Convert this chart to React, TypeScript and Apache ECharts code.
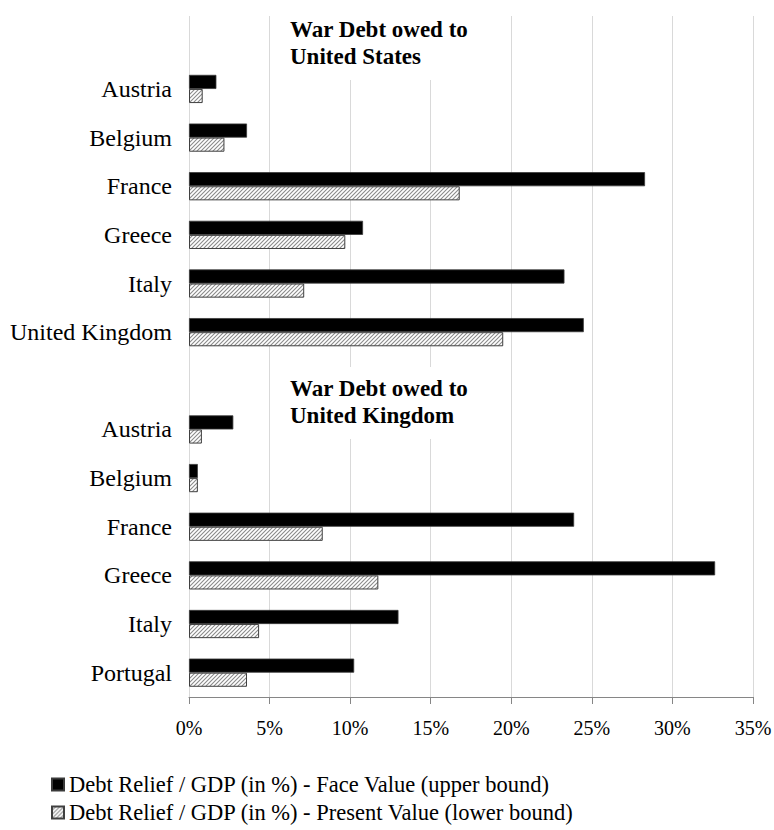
import React, { useEffect, useRef } from "react";
import * as echarts from "echarts";

// Categories (top to bottom); blank rows hold the two group titles
const categories = [
  "gap1",
  "US|Austria",
  "US|Belgium",
  "US|France",
  "US|Greece",
  "US|Italy",
  "US|United Kingdom",
  "gap2",
  "UK|Austria",
  "UK|Belgium",
  "UK|France",
  "UK|Greece",
  "UK|Italy",
  "UK|Portugal",
];

// War debt owed to United States (% of GDP)
const usFaceValue = [1.7, 3.6, 28.3, 10.8, 23.3, 24.5];
const usPresentValue = [0.85, 2.2, 16.8, 9.7, 7.15, 19.5];
// War debt owed to United Kingdom (% of GDP)
const ukFaceValue = [2.75, 0.55, 23.9, 32.65, 13.0, 10.25];
const ukPresentValue = [0.8, 0.55, 8.3, 11.75, 4.35, 3.6];

const seriesNames = [
  "Debt Relief / GDP (in %) - Face Value (upper bound)",
  "Debt Relief / GDP (in %) - Present Value (lower bound)",
];
const titles = ["War Debt owed to\nUnited States", "War Debt owed to\nUnited Kingdom"];
const xTicks = { min: 0, max: 35, interval: 5 };

const FONT = '"Liberation Serif", "Times New Roman", serif';

const hatchSvg =
  "<svg xmlns='http://www.w3.org/2000/svg' width='4' height='4'>" +
  "<rect width='4' height='4' fill='#ffffff'/>" +
  "<path d='M-1,1 L1,-1 M0,4 L4,0 M3,5 L5,3' stroke='#8a8a8a' stroke-width='1.1'/></svg>";
const hatchUrl = "data:image/svg+xml;charset=utf-8," + encodeURIComponent(hatchSvg);

export default function App() {
  const ref = useRef<HTMLDivElement>(null);

  useEffect(() => {
    if (!ref.current) return;
    const chart = echarts.init(ref.current, undefined, { renderer: "svg" });

    const face = [null, ...usFaceValue, null, ...ukFaceValue];
    const pv = [null, ...usPresentValue, null, ...ukPresentValue];

    const hatch: any = { image: hatchUrl, repeat: "repeat", imageWidth: 4, imageHeight: 4 };

    const legendBase = {
      orient: "horizontal",
      left: 46,
      itemWidth: 12,
      itemHeight: 12,
      icon: "rect",
      textStyle: { fontFamily: FONT, fontSize: 22.5, color: "#000" },
    };

    const option: any = {
      animation: false,
      backgroundColor: "#ffffff",
      textStyle: { fontFamily: FONT },
      grid: {
        left: 189,
        right: 21,
        top: 16,
        bottom: 133,
        containLabel: false,
        outerBoundsMode: "none",
      },
      legend: [
        { ...legendBase, top: 768, data: [seriesNames[0]] },
        { ...legendBase, top: 796, data: [seriesNames[1]] },
      ],
      xAxis: {
        type: "value",
        min: xTicks.min,
        max: xTicks.max,
        interval: xTicks.interval,
        axisLine: { show: true, lineStyle: { color: "#868686", width: 1 } },
        axisTick: { show: true, length: 7, lineStyle: { color: "#868686" } },
        splitLine: { show: true, lineStyle: { color: "#d9d9d9", width: 1 } },
        axisLabel: {
          formatter: "{value}%",
          fontFamily: FONT,
          fontSize: 20,
          color: "#000",
          margin: 21,
        },
      },
      yAxis: {
        type: "category",
        inverse: true,
        data: categories,
        axisLine: { show: false },
        axisTick: { show: false },
        splitLine: { show: false },
        axisLabel: {
          fontFamily: FONT,
          fontSize: 24,
          color: "#000",
          margin: 17,
          formatter: (v: string) => (v.indexOf("|") >= 0 ? v.split("|")[1] : ""),
        },
      },
      series: [
        {
          name: seriesNames[0],
          type: "bar",
          data: face,
          barGap: "0%",
          barCategoryGap: "42%",
          itemStyle: { color: "#000000", borderColor: "#3a3a3a", borderWidth: 0.8 },
        },
        {
          name: seriesNames[1],
          type: "bar",
          data: pv,
          barGap: "0%",
          barCategoryGap: "42%",
          itemStyle: { color: hatch, borderColor: "#404040", borderWidth: 1 },
        },
      ],
      graphic: [
        {
          type: "rect",
          z: 10,
          shape: { x: 275, y: 9, width: 230, height: 71 },
          style: { fill: "#ffffff" },
          silent: true,
        },
        {
          type: "rect",
          z: 10,
          shape: { x: 275, y: 367, width: 230, height: 72 },
          style: { fill: "#ffffff" },
          silent: true,
        },
        {
          type: "text",
          z: 11,
          x: 290,
          y: 16,
          style: {
            text: titles[0],
            font: `bold 23px ${FONT}`,
            fill: "#000",
            lineHeight: 27,
            textVerticalAlign: "top",
          },
        },
        {
          type: "text",
          z: 11,
          x: 290,
          y: 375,
          style: {
            text: titles[1],
            font: `bold 23px ${FONT}`,
            fill: "#000",
            lineHeight: 27,
            textVerticalAlign: "top",
          },
        },
      ],
    };

    chart.setOption(option);
    return () => chart.dispose();
  }, []);

  return (
    <div
      ref={ref}
      style={{ position: "absolute", left: 0, top: 0, width: 774, height: 830 }}
    />
  );
}
